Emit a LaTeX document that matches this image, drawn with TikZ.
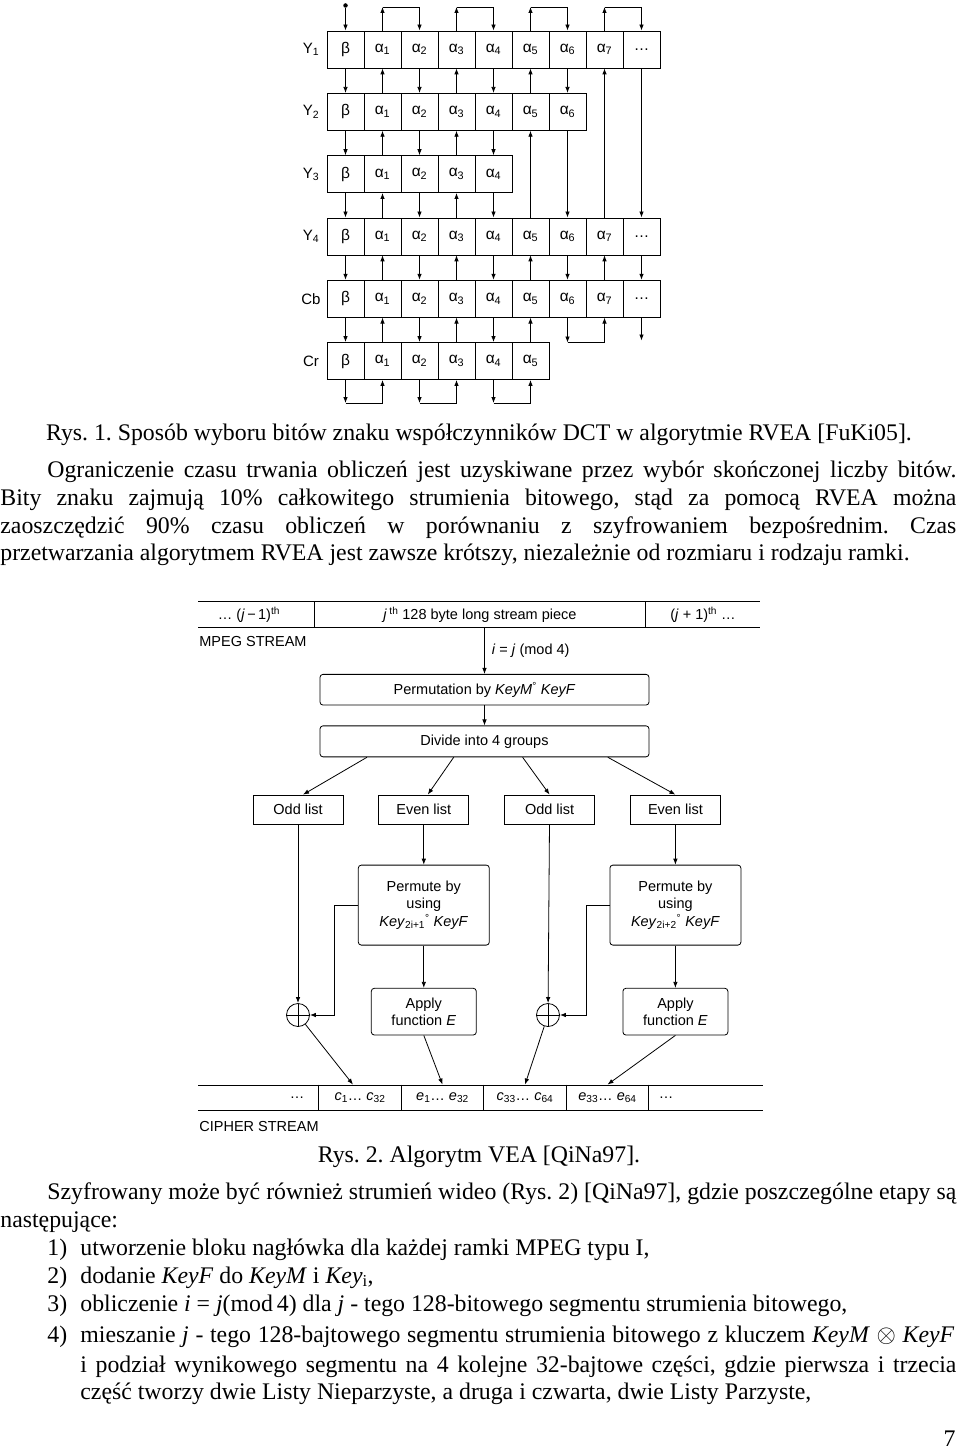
\documentclass[tikz,border=0pt]{standalone}
\usepackage{fontspec}
\setmainfont{Liberation Serif}
\newfontfamily\diagfont{Liberation Sans}
\usepackage{tikz}
\usetikzlibrary{arrows.meta,positioning,shapes}
\frenchspacing

\newcommand{\cellname}[1]{\ifcase#1 β\or α\textsubscript{1}\or α\textsubscript{2}\or
  α\textsubscript{3}\or α\textsubscript{4}\or α\textsubscript{5}\or α\textsubscript{6}\or
  α\textsubscript{7}\or\ldots\fi}

\begin{document}
\begin{tikzpicture}[x=1pt,y=-1pt,line width=0.8pt]
	\tikzstyle{cell}
	  =[draw, rectangle, minimum width=37pt, minimum height=37pt,
	  inner sep=0pt, font=\diagfont\fontsize{15.5}{18}\selectfont]
	\tikzstyle{flow}=[-{Latex[length=6pt,width=4.5pt]}]
	\tikzstyle{tag}=[inner sep=0pt, font=\diagfont\fontsize{14.5}{17.5}\selectfont]
	\tikzstyle{box}
	  =[draw, rectangle, rounded corners=3pt, align=center, inner sep=0pt,
	  font=\diagfont\fontsize{14.5}{17.5}\selectfont]
	\tikzstyle{list}
	  =[draw, rectangle, minimum width=90pt, minimum height=29pt,
	  inner sep=0pt, font=\diagfont\fontsize{14.5}{17.5}\selectfont]
	\tikzstyle{xor}
	  =[draw, circle, minimum size=23pt, inner sep=0pt,
	  path picture={\draw (path picture bounding box.north) -- (path picture bounding box.south)
	    (path picture bounding box.west) -- (path picture bounding box.east);}]
	\tikzstyle{txt}=[anchor=base west, inner sep=0pt, font=\fontsize{23.8}{27.7}\selectfont]

	\fill[white] (0,0) rectangle (960,1450);
	\useasboundingbox (0,0) rectangle (960,1450);

	% Rys. 1: sign bits of the DCT coefficients
	\foreach \col in {0,...,8}
	  \node[cell] (r1c\col) at (345.5+37*\col,49.5) {\cellname{\col}};
	\foreach \col in {0,...,6}
	  \node[cell] (r2c\col) at (345.5+37*\col,111.8) {\cellname{\col}};
	\foreach \col in {0,...,4}
	  \node[cell] (r3c\col) at (345.5+37*\col,174.1) {\cellname{\col}};
	\foreach \col in {0,...,8}
	  \node[cell] (r4c\col) at (345.5+37*\col,236.4) {\cellname{\col}};
	\foreach \col in {0,...,8}
	  \node[cell] (r5c\col) at (345.5+37*\col,298.7) {\cellname{\col}};
	\foreach \col in {0,...,5}
	  \node[cell] (r6c\col) at (345.5+37*\col,361) {\cellname{\col}};

	\node[tag, font=\diagfont\fontsize{15}{18}\selectfont] (y1) at (311,49.5) {Y\textsubscript{1}};
	\node[tag, font=\diagfont\fontsize{15}{18}\selectfont] (y2) at (311,111.8) {Y\textsubscript{2}};
	\node[tag, font=\diagfont\fontsize{15}{18}\selectfont] (y3) at (311,174.1) {Y\textsubscript{3}};
	\node[tag, font=\diagfont\fontsize{15}{18}\selectfont] (y4) at (311,236.4) {Y\textsubscript{4}};
	\node[tag, font=\diagfont\fontsize{15}{18}\selectfont] (cb) at (311,298.7) {Cb};
	\node[tag, font=\diagfont\fontsize{15}{18}\selectfont] (cr) at (311,361) {Cr};

	\node[circle, fill, inner sep=0pt, minimum size=4.5pt] (start) at (345.5,5.5) {};
	\coordinate (top) at (0,7);
	\coordinate (mid) at (0,342.5);
	\coordinate (bot) at (0,403);
	\draw[flow] (start) -- (r1c0.north);

	% down columns
	\foreach \col in {0,2,4}
	  \foreach \m/\n in {1/2,2/3,3/4,4/5,5/6}
	    \draw[flow] (r\m c\col.south) -- (r\n c\col.north);
	\foreach \m/\n in {1/2,2/4,4/5}
	  \draw[flow] (r\m c6.south) -- (r\n c6.north);
	\foreach \m/\n in {1/4,4/5}
	  \draw[flow] (r\m c8.south) -- (r\n c8.north);
	% up columns
	\foreach \col in {1,3}
	  \foreach \m/\n in {1/2,2/3,3/4,4/5,5/6}
	    \draw[flow] (r\n c\col.north) -- (r\m c\col.south);
	\foreach \m/\n in {1/2,2/4,4/5,5/6}
	  \draw[flow] (r\n c5.north) -- (r\m c5.south);
	\foreach \m/\n in {1/4,4/5}
	  \draw[flow] (r\n c7.north) -- (r\m c7.south);

	% turns above Y1, below Cb and below Cr
	\foreach \p/\q in {1/2,3/4,5/6,7/8} {
	  \draw[flow] (r1c\p.north) -- (r1c\p.north |- top);
	  \draw[flow] (r1c\p.north |- top) -- (r1c\q.north |- top) -- (r1c\q.north);
	}
	\foreach \p/\q in {0/1,2/3,4/5} {
	  \draw[flow] (r6c\p.south) -- (r6c\p.south |- bot);
	  \draw[flow] (r6c\p.south |- bot) -- (r6c\q.south |- bot) -- (r6c\q.south);
	}
	\draw[flow] (r5c6.south) -- (r5c6.south |- mid);
	\draw[flow] (r5c6.south |- mid) -- (r5c7.south |- mid) -- (r5c7.south);
	\draw[flow] (r5c8.south) -- ([yshift=2pt]r5c8.south |- mid);

	% text between the figures
	\node[txt, anchor=base] (cap1)
	  at (479,440) {Rys. 1. Sposób wyboru bitów znaku współczynników DCT w algorytmie RVEA [FuKi05].};
	\node[txt] (p1a)
	  at (47,477) {\makebox[909pt][s]{Ograniczenie czasu trwania obliczeń jest uzyskiwane przez wybór skończonej liczby bitów.}};
	\node[txt] (p1b)
	  at (0,505) {\makebox[956pt][s]{Bity znaku zajmują 10\% całkowitego strumienia bitowego, stąd za pomocą RVEA można}};
	\node[txt] (p1c)
	  at (0,533) {\makebox[956pt][s]{zaoszczędzić 90\% czasu obliczeń w porównaniu z szyfrowaniem bezpośrednim. Czas}};
	\node[txt] (p1d)
	  at (0,560) {przetwarzania algorytmem RVEA jest zawsze krótszy, niezależnie od rozmiaru i rodzaju ramki.};

	% Rys. 2: VEA
	\node[tag] (prev)
	  at (249,614.5) {\ldots\ (\textit{j}\,−\,1)\textsuperscript{th}};
	\node[tag, minimum width=330pt, minimum height=25.6pt] (piece)
	  at (480,614.5) {\textit{j}\,\textsuperscript{th} 128 byte long stream piece};
	\node[tag] (next)
	  at (703,614.5) {(\textit{j} + 1)\textsuperscript{th} \ldots};
	\draw (198,601.7) -- (760,601.7) (198,627.3) -- (760,627.3);
	\draw (piece.north west) -- (piece.south west) (piece.north east) -- (piece.south east);
	\node[tag, anchor=west] (mpeg)
	  at (199,641.7) {MPEG STREAM};

	\node[box, minimum width=329pt, minimum height=30.7pt] (perm)
	  at (484.5,689.7) {Permutation by \textit{KeyM}\textsuperscript{°} \textit{KeyF}};
	\node[box, minimum width=329pt, minimum height=31pt] (divide)
	  [below=20pt of perm] {Divide into 4 groups};
	\draw[flow] (perm.north |- piece.south) -- (perm.north)
	  node[tag, midway, right=7pt] {\textit{i} = \textit{j} (mod 4)};
	\draw[flow] (perm) -- (divide);

	\node[list] (odd1)
	  at (298,809.5) {Odd list};
	\node[list] (even1)
	  [right=35pt of odd1] {Even list};
	\node[list] (odd2)
	  [right=35pt of even1] {Odd list};
	\node[list] (even2)
	  [right=35pt of odd2] {Even list};
	\draw[flow] ([xshift=-117.5pt]divide.south) -- ([xshift=5pt]odd1.north);
	\draw[flow] ([xshift=-30.8pt]divide.south) -- ([xshift=4pt]even1.north);
	\draw[flow] ([xshift=38.1pt]divide.south) -- (odd2.north);
	\draw[flow] ([xshift=123.3pt]divide.south) -- (even2.north);

	\node[box, minimum width=131pt, minimum height=80pt] (perm1)
	  [below=40.3pt of even1] {Permute by\\using\\\textit{Key}\textsubscript{2i+1}\textsuperscript{°} \textit{KeyF}};
	\node[box, minimum width=131pt, minimum height=80pt] (perm2)
	  [below=40.3pt of even2] {Permute by\\using\\\textit{Key}\textsubscript{2i+2}\textsuperscript{°} \textit{KeyF}};
	\node[box, minimum width=105pt, minimum height=46.7pt] (apply1)
	  [below=42.4pt of perm1] {Apply\\function \textit{E}};
	\node[box, minimum width=105pt, minimum height=46.7pt] (apply2)
	  [below=42.4pt of perm2] {Apply\\function \textit{E}};
	\node[xor] (xor1) at (298,1015) {};
	\node[xor] (xor2) at (548,1015) {};

	\draw[flow] (even1) -- (perm1);
	\draw[flow] (even2) -- (perm2);
	\draw[flow] (perm1) -- (apply1);
	\draw[flow] (perm2) -- (apply2);
	\draw[flow] (odd1) -- (xor1);
	\draw[flow] (odd2) -- (xor2);
	\draw[flow] (perm1.west) -- ++(-23.4,0) |- (xor1.east);
	\draw[flow] (perm2.west) -- ++(-23.4,0) |- (xor2.east);

	\node[tag, minimum width=81.7pt, minimum height=25.7pt] (c1)
	  at (360,1097.8) {\textit{c}\textsubscript{1}\ldots\ \textit{c}\textsubscript{32}};
	\node[tag, minimum width=81.7pt, minimum height=25.7pt] (e1)
	  [right=0pt of c1] {\textit{e}\textsubscript{1}\ldots\ \textit{e}\textsubscript{32}};
	\node[tag, minimum width=81.7pt, minimum height=25.7pt] (c33)
	  [right=0pt of e1] {\textit{c}\textsubscript{33}\ldots\ \textit{c}\textsubscript{64}};
	\node[tag, minimum width=81.7pt, minimum height=25.7pt] (e33)
	  [right=0pt of c33] {\textit{e}\textsubscript{33}\ldots\ \textit{e}\textsubscript{64}};
	\node[tag] (dotsl) at (297,1097.5) {\ldots};
	\node[tag] (dotsr) at (666,1097.5) {\ldots};
	\draw (198,1085) -- (763,1085) (198,1110.7) -- (763,1110.7);
	\draw (c1.north west) -- (c1.south west) (e1.north west) -- (e1.south west)
	  (c33.north west) -- (c33.south west) (e33.north west) -- (e33.south west)
	  (e33.north east) -- (e33.south east);
	\node[tag, anchor=west] (cipher)
	  at (199,1126.7) {CIPHER STREAM};

	\draw[flow] (xor1) -- ([xshift=-7pt]c1.north);
	\draw[flow] (apply1.south) -- (e1.north);
	\draw[flow] (xor2) -- (c33.north);
	\draw[flow] (apply2.south) -- (e33.north);

	% text below
	\node[txt, anchor=base] (cap2)
	  at (479,1162) {Rys. 2. Algorytm VEA [QiNa97].};
	\node[txt] (p2a)
	  at (47,1199) {\makebox[909pt][s]{Szyfrowany może być również strumień wideo (Rys. 2) [QiNa97], gdzie poszczególne etapy są}};
	\node[txt] (p2b)
	  at (0,1227) {następujące:};
	\node[txt] (n1) at (47,1255) {1)};
	\node[txt] (i1) at (80,1255) {utworzenie bloku nagłówka dla każdej ramki MPEG typu I,};
	\node[txt] (n2) at (47,1283) {2)};
	\node[txt] (i2) at (80,1283) {dodanie \textit{KeyF} do \textit{KeyM} i \textit{Key}\textsubscript{i},};
	\node[txt] (n3) at (47,1311) {3)};
	\node[txt] (i3) at (80,1311) {obliczenie \textit{i} = \textit{j}(mod\,4) dla \textit{j} - tego 128-bitowego segmentu strumienia bitowego,};
	\node[txt] (n4) at (47,1342) {4)};
	\node[txt] (i4a)
	  at (80,1342) {\makebox[874pt][s]{mieszanie \textit{j} - tego 128-bajtowego segmentu strumienia bitowego z kluczem \textit{KeyM} $\otimes$ \textit{KeyF}}};
	\node[txt] (i4b)
	  at (80,1372) {\makebox[876pt][s]{i podział wynikowego segmentu na 4 kolejne 32-bajtowe części, gdzie pierwsza i trzecia}};
	\node[txt] (i4c)
	  at (80,1399) {część tworzy dwie Listy Nieparzyste, a druga i czwarta, dwie Listy Parzyste,};
	\node[txt, anchor=base east] (page) at (956,1446) {7};
\end{tikzpicture}
\end{document}
